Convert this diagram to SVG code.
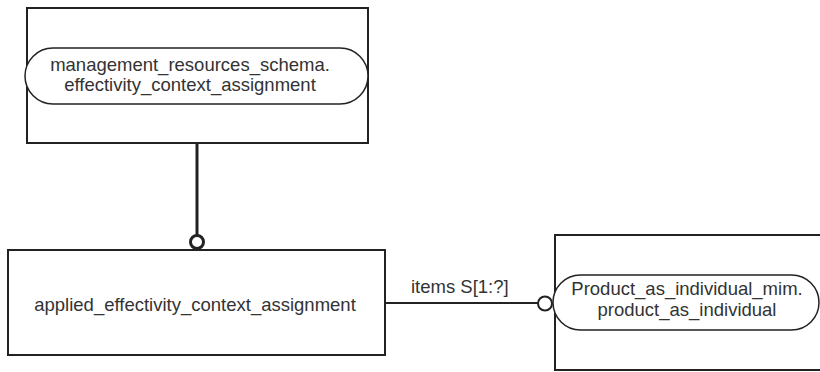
<svg xmlns="http://www.w3.org/2000/svg" width="820" height="372" viewBox="0 0 820 372">
<style>
.box{fill:#fff;stroke:#222;stroke-width:2}
.pill{fill:#fff;stroke:#222;stroke-width:1.5}
.t{font-family:"Liberation Sans",Arial,sans-serif;font-size:18.5px;fill:#333;text-anchor:middle}
.lbl{font-family:"Liberation Sans",Arial,sans-serif;font-size:18.5px;fill:#333}
.c{fill:none;stroke:#222}
</style>
<rect width="820" height="372" fill="#fff"/>
<g id="node-mrs">
<rect class="box" x="27" y="8" width="341" height="135"/>
<rect class="pill" x="25" y="48" width="343" height="56" rx="28" ry="28"/>
<text class="t" x="190" y="71">management_resources_schema.</text>
<text class="t" x="190" y="91">effectivity_context_assignment</text>
</g>
<g id="node-aeca">
<rect class="box" x="8" y="250" width="377" height="105"/>
<text class="t" x="195" y="311">applied_effectivity_context_assignment</text>
</g>
<g id="node-pai">
<rect class="box" x="555" y="235" width="280" height="135"/>
<rect class="pill" x="553" y="275" width="266" height="55" rx="27.5" ry="27.5"/>
<text class="t" x="687" y="295">Product_as_individual_mim.</text>
<text class="t" x="687" y="316">product_as_individual</text>
</g>
<g id="connectors">
<line class="c" x1="197" y1="143" x2="197" y2="235" stroke-width="3"/>
<circle class="c" cx="197" cy="242" r="6.5" stroke-width="3" fill="#fff"/>
<line class="c" x1="385" y1="303" x2="538" y2="303" stroke-width="2"/>
<circle class="c" cx="545" cy="303.5" r="7" stroke-width="2" fill="#fff"/>
<text class="lbl" x="411" y="293">items S[1:?]</text>
</g>
</svg>
